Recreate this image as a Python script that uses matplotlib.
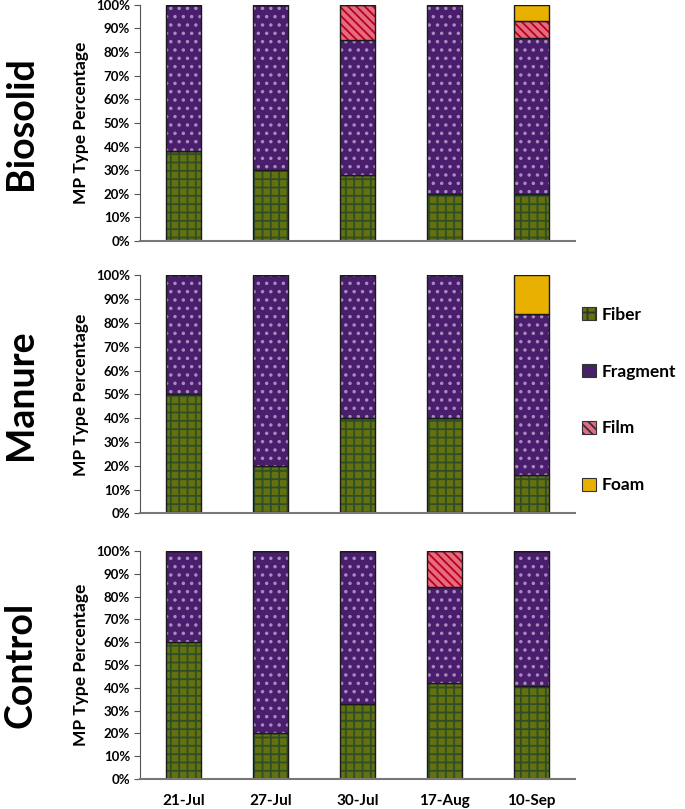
import numpy as np
import matplotlib
matplotlib.use("Agg")
import matplotlib.pyplot as plt
from matplotlib.patches import Patch

plt.rcParams["font.family"] = ["Lato", "DejaVu Sans"]
plt.rcParams["hatch.linewidth"] = 1.3

dates = ["21-Jul", "27-Jul", "30-Jul", "17-Aug", "10-Sep"]
treatments = ["Biosolid", "Manure", "Control"]
types = ["Fiber", "Fragment", "Film", "Foam"]

# percentages per treatment, one list per MP type
biosolid_fiber = [38, 30, 28, 20, 20]
biosolid_fragment = [62, 70, 57, 80, 66]
biosolid_film = [0, 0, 15, 0, 7]
biosolid_foam = [0, 0, 0, 0, 7]

manure_fiber = [50, 20, 40, 40, 16]
manure_fragment = [50, 80, 60, 60, 68]
manure_film = [0, 0, 0, 0, 0]
manure_foam = [0, 0, 0, 0, 16]

control_fiber = [60, 20, 33, 42, 41]
control_fragment = [40, 80, 67, 42, 59]
control_film = [0, 0, 0, 16, 0]
control_foam = [0, 0, 0, 0, 0]

panel_data = {
    "Biosolid": [biosolid_fiber, biosolid_fragment, biosolid_film, biosolid_foam],
    "Manure": [manure_fiber, manure_fragment, manure_film, manure_foam],
    "Control": [control_fiber, control_fragment, control_film, control_foam],
}

face_colors = ["#65700f", "#4a1e6c", "#e26b86", "#e8b000"]
hatch_colors = ["#2c4f2a", "#a58cc0", "#c00010", "#e8b000"]
hatches = ["++", "..", "\\\\\\\\", None]

fig = plt.figure(figsize=(6.85, 8.09), dpi=100)

# axes rects in figure fraction: left, bottom, width, height
rects = [
    [0.204, 0.702, 0.635, 0.292],
    [0.204, 0.3655, 0.635, 0.294],
    [0.204, 0.0371, 0.635, 0.2818],
]

x = np.arange(len(dates))
width = 0.4

for name, rect in zip(treatments, rects):
    ax = fig.add_axes(rect)
    bottom = np.zeros(len(dates))
    for i, vals in enumerate(panel_data[name]):
        vals = np.array(vals, dtype=float)
        # fill + hatch, then outline on top
        ax.bar(x, vals, width, bottom=bottom, color=face_colors[i],
               edgecolor=hatch_colors[i], hatch=hatches[i], linewidth=0)
        ax.bar(x, vals, width, bottom=bottom, fill=False,
               edgecolor="#1a1a1a", linewidth=1.0)
        bottom += vals

    ax.set_xlim(-0.5, len(dates) - 0.5)
    ax.set_ylim(0, 100)
    ax.set_yticks(np.arange(0, 101, 10))
    ax.set_yticklabels([f"{v}%" for v in range(0, 101, 10)],
                       fontsize=9.5, fontweight="bold")
    ax.tick_params(axis="y", length=4, width=0.8, color="#555555", pad=3)
    ax.tick_params(axis="x", length=0)
    if name == "Control":
        ax.set_xticks(x)
        ax.set_xticklabels(dates, fontsize=11, fontweight="bold")
        ax.tick_params(axis="x", pad=11)
    else:
        ax.set_xticks([])
    for s in ["top", "right"]:
        ax.spines[s].set_visible(False)
    ax.spines["left"].set_color("#555555")
    ax.spines["bottom"].set_color("#777777")
    ax.spines["bottom"].set_linewidth(1.5)
    ax.set_ylabel("MP Type Percentage", fontsize=12.5, fontweight="bold",
                  labelpad=5)
    pos = ax.get_position()
    fig.text(0.03, pos.y0 + pos.height / 2, name, rotation=90,
             fontsize=27, fontweight="bold", ha="center", va="center")

handles = [Patch(facecolor=face_colors[i], edgecolor=hatch_colors[i],
                 hatch=hatches[i], linewidth=0.8) for i in range(4)]
leg = fig.legend(handles, types, loc="upper left",
                 bbox_to_anchor=(0.827, 0.64), frameon=False,
                 prop={"family": ["Lato", "DejaVu Sans"], "weight": "bold",
                       "size": 12.5},
                 handlelength=0.8, handleheight=0.8, handletextpad=0.35,
                 labelspacing=2.35)
for h in leg.legend_handles:
    h.set_edgecolor("#333333")

fig.savefig("out.png", dpi=100)
